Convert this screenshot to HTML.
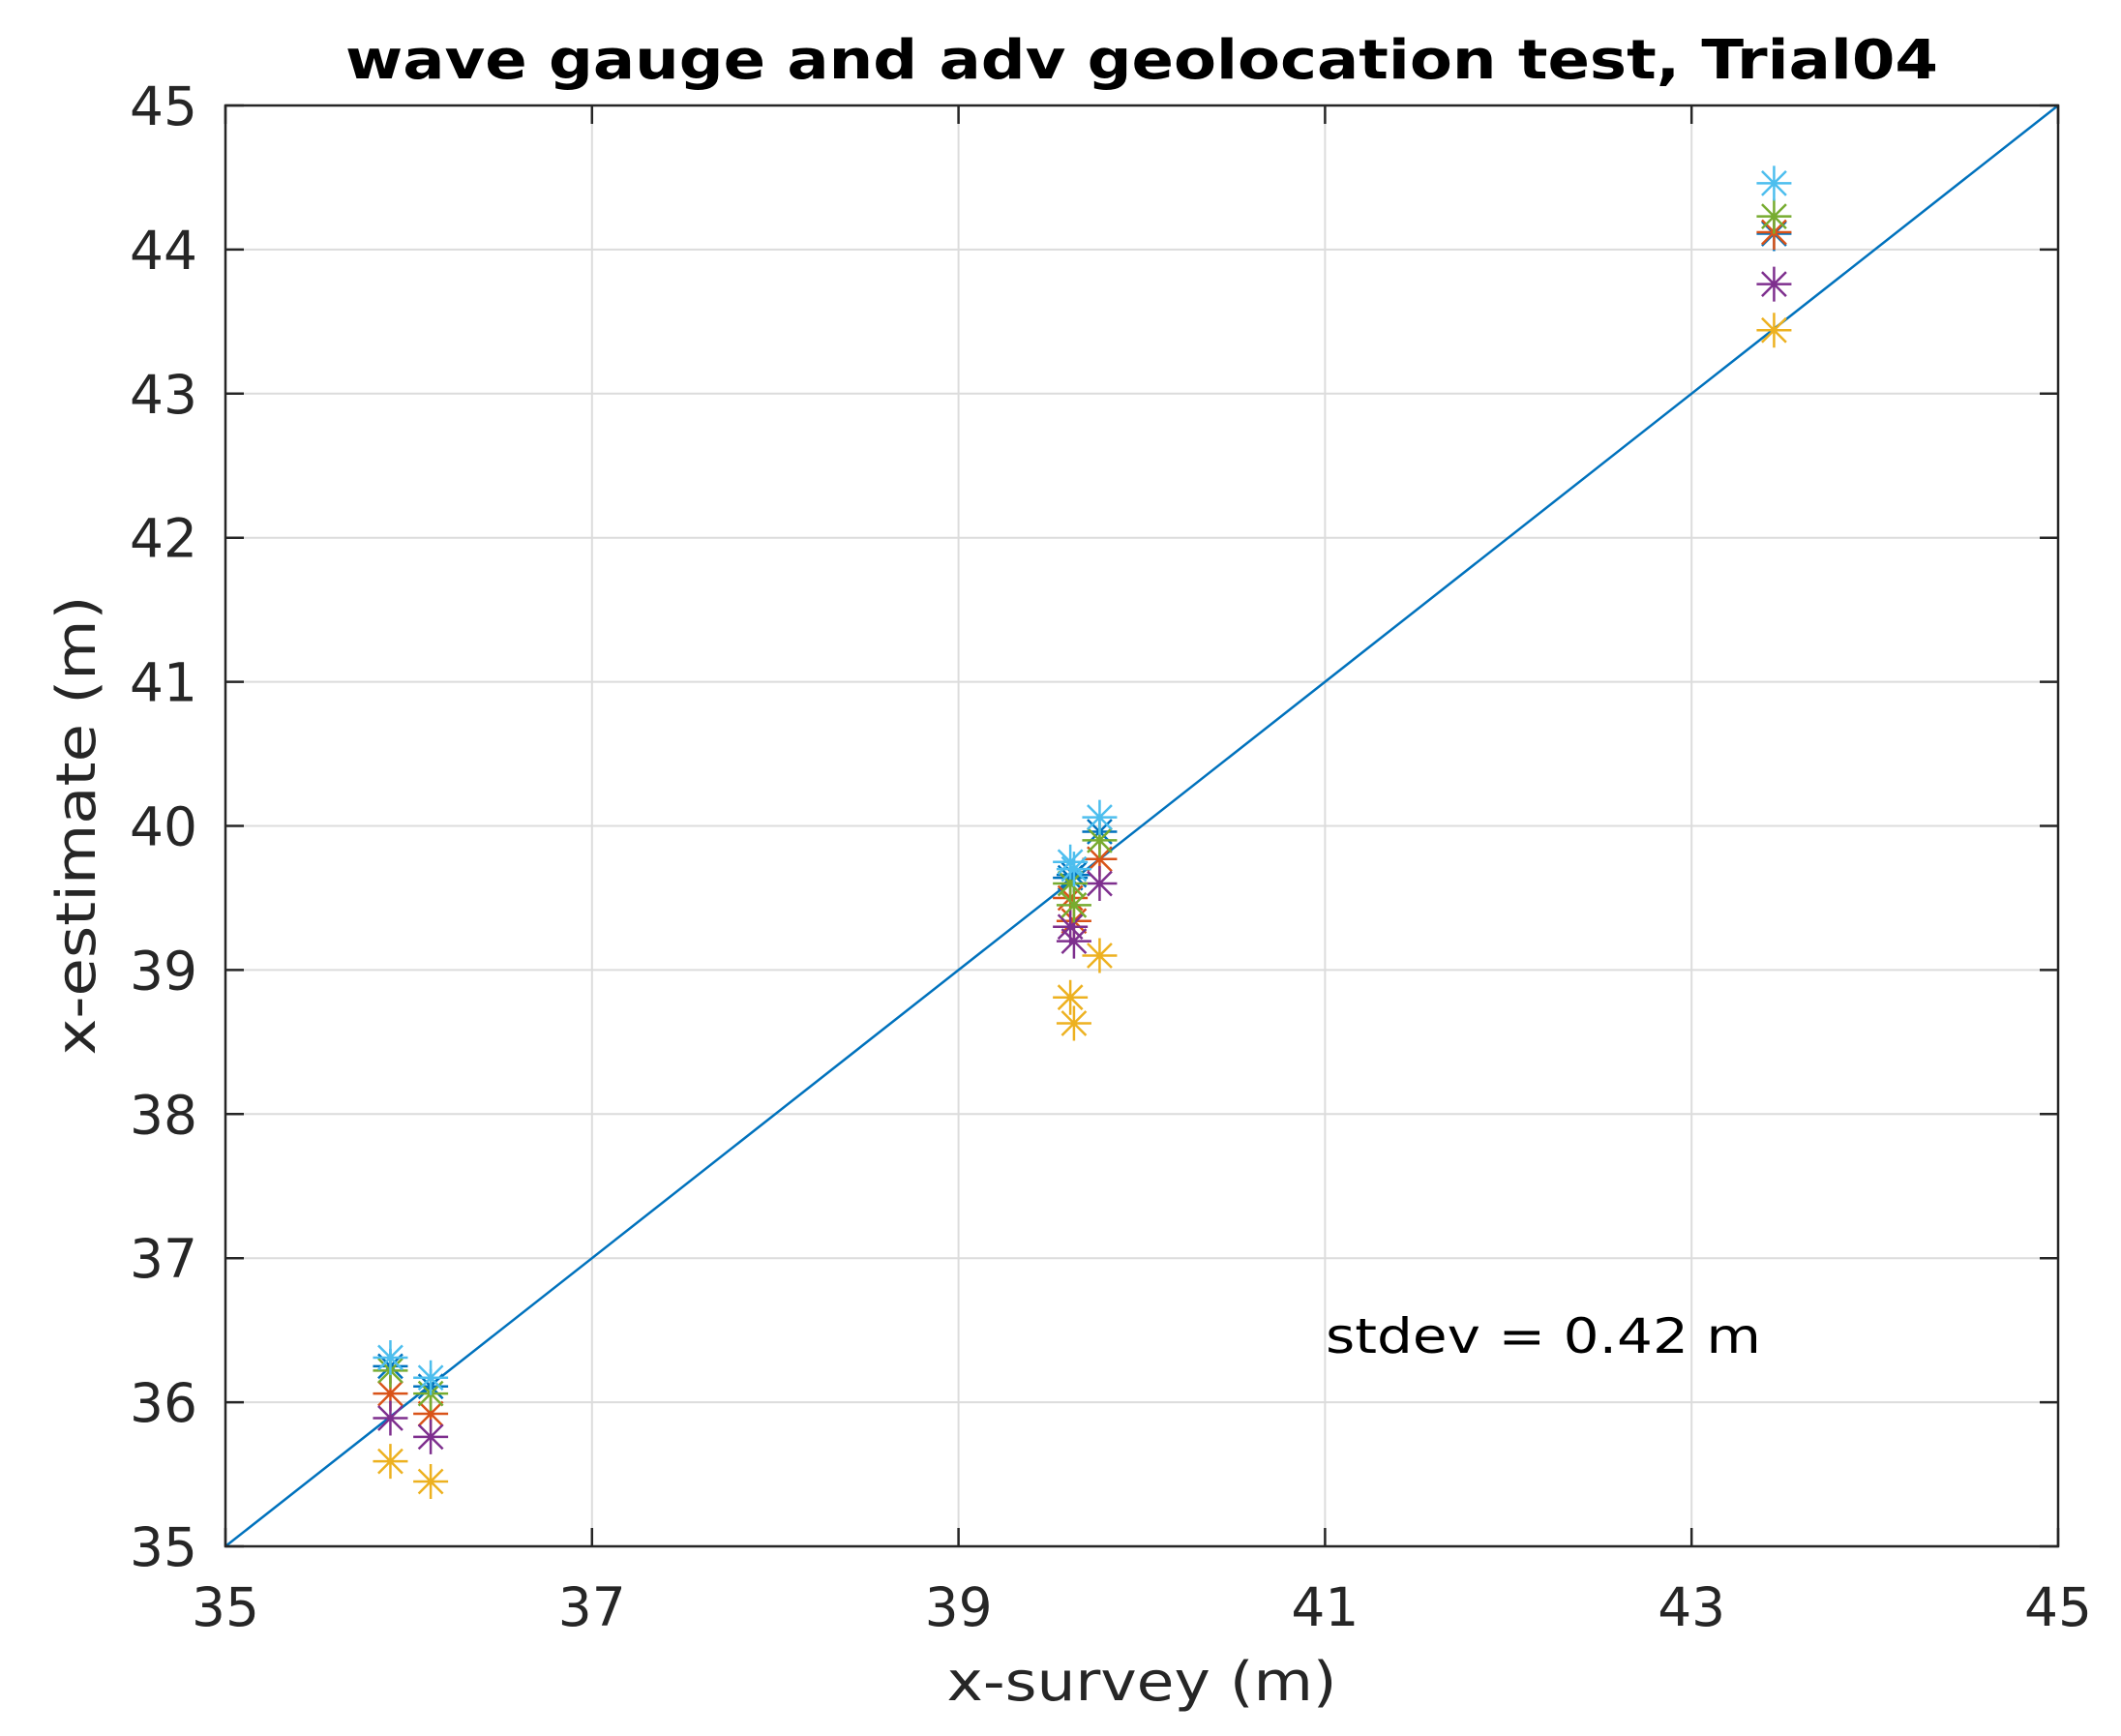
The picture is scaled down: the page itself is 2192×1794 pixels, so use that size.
<!DOCTYPE html>
<html><head><meta charset="utf-8"><style>
html,body{margin:0;padding:0;background:#fff;}
svg{display:block;font-family:"DejaVu Sans","Liberation Sans",sans-serif;}
</style></head><body>
<svg id="s" width="2192" height="1794" viewBox="0 0 2192 1794" xmlns="http://www.w3.org/2000/svg">
<rect width="2192" height="1794" fill="#fff"/>
<g id="grid" stroke="#dcdcdc" stroke-width="2"></g>
<line x1="233" y1="1598" x2="2127" y2="109" stroke="#0072BD" stroke-width="2.5"/>
<g id="pts" stroke-width="2.5" fill="none"></g>
<rect x="233" y="109" width="1894" height="1489" fill="none" stroke="#262626" stroke-width="2.5"/>
<g id="ticks" stroke="#262626" stroke-width="2.5"></g>
<g id="labels" fill="#262626" font-size="55"></g>
<text x="1180" y="81" text-anchor="middle" font-size="56" font-weight="bold" fill="#000" textLength="1646" lengthAdjust="spacingAndGlyphs">wave gauge and adv geolocation test, Trial04</text>
<text x="1180" y="1757" text-anchor="middle" font-size="56" fill="#262626" textLength="403" lengthAdjust="spacingAndGlyphs">x-survey (m)</text>
<text transform="translate(98,853) rotate(-90)" text-anchor="middle" font-size="56" fill="#262626" textLength="475" lengthAdjust="spacingAndGlyphs">x-estimate (m)</text>
<text x="1370" y="1398" font-size="50" fill="#000" textLength="450" lengthAdjust="spacingAndGlyphs">stdev = 0.42 m</text>
</svg>
<script>
const X=v=>233+(v-35)*189.4, Y=v=>1598-(v-35)*148.9;
const ns="http://www.w3.org/2000/svg";
function el(p,t,a,txt){const e=document.createElementNS(ns,t);for(const k in a)e.setAttribute(k,a[k]);if(txt!==undefined)e.textContent=txt;document.getElementById(p).appendChild(e);}
for(let v=37;v<45;v+=2) el('grid','line',{x1:X(v),y1:109,x2:X(v),y2:1598});
for(let v=36;v<45;v++) el('grid','line',{x1:233,y1:Y(v),x2:2127,y2:Y(v)});
for(let v=35;v<=45;v+=2){el('ticks','line',{x1:X(v),y1:1598,x2:X(v),y2:1579});el('ticks','line',{x1:X(v),y1:109,x2:X(v),y2:128});
 el('labels','text',{x:X(v),y:1680,'text-anchor':'middle'},v);}
for(let v=35;v<=45;v++){el('ticks','line',{x1:233,y1:Y(v),x2:252,y2:Y(v)});el('ticks','line',{x1:2127,y1:Y(v),x2:2108,y2:Y(v)});
 el('labels','text',{x:204,y:Y(v)+20,'text-anchor':'end'},v);}
const C={b:'#0072BD',r:'#D95319',y:'#EDB120',p:'#7E2F8E',g:'#77AC30',c:'#4DBEEE'};
const data={
 b:[[35.9,36.25],[36.12,36.11],[39.61,39.64],[39.63,39.66],[39.77,39.96],[43.45,44.11]],
 r:[[35.9,36.06],[36.12,35.92],[39.61,39.5],[39.63,39.34],[39.77,39.77],[43.45,44.12]],
 y:[[35.9,35.59],[36.12,35.45],[39.61,38.81],[39.63,38.63],[39.77,39.1],[43.45,43.44]],
 p:[[35.9,35.89],[36.12,35.76],[39.61,39.3],[39.63,39.2],[39.77,39.6],[43.45,43.76]],
 g:[[35.9,36.22],[36.12,36.06],[39.61,39.6],[39.63,39.45],[39.77,39.9],[43.45,44.23]],
 c:[[35.9,36.31],[36.12,36.17],[39.61,39.75],[39.63,39.7],[39.77,40.06],[43.45,44.46]]};
for(const k of ['b','r','y','p','g','c']){for(const [a,b] of data[k]){const x=X(a),y=Y(b),h=18,d=12.5;
 el('pts','path',{stroke:C[k],d:`M${x-h} ${y}H${x+h}M${x} ${y-h}V${y+h}M${x-d} ${y-d}L${x+d} ${y+d}M${x-d} ${y+d}L${x+d} ${y-d}`});}}
</script>
</body></html>
